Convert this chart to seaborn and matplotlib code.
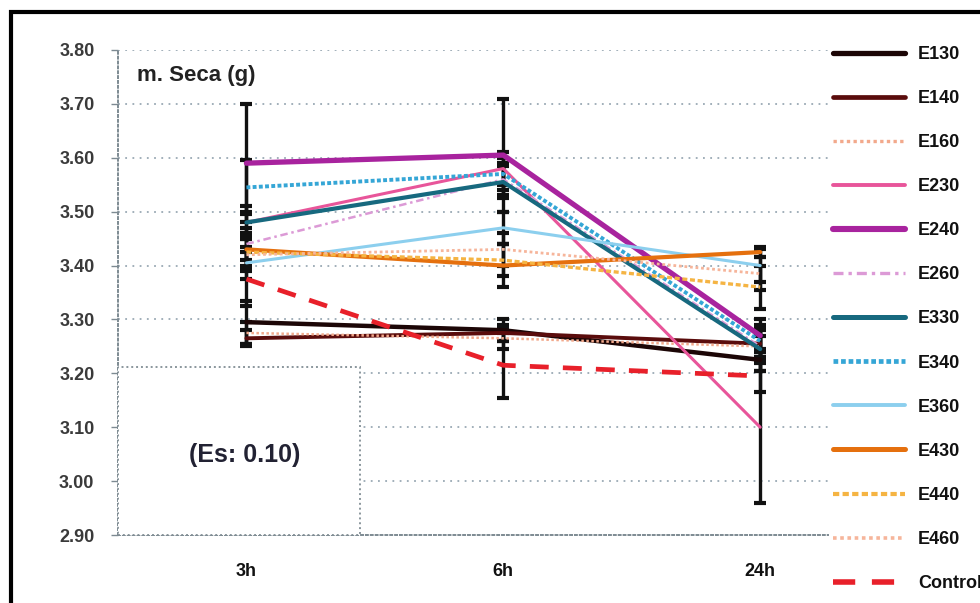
import numpy as np
import pandas as pd
import matplotlib
matplotlib.use("Agg")
import matplotlib.pyplot as plt
from matplotlib.patches import Rectangle
import seaborn as sns

# ---------------- data ----------------
hours = ["3h", "6h", "24h"]
series_names = ["E130", "E140", "E160", "E230", "E240", "E260",
                "E330", "E340", "E360", "E430", "E440", "E460", "Control"]
E130 = [3.295, 3.280, 3.225]
E140 = [3.265, 3.275, 3.255]
E160 = [3.275, 3.265, 3.250]
E230 = [3.480, 3.580, 3.100]
E240 = [3.590, 3.605, 3.270]
E260 = [3.440, 3.560, 3.250]
E330 = [3.480, 3.555, 3.245]
E340 = [3.545, 3.570, 3.260]
E360 = [3.405, 3.470, 3.400]
E430 = [3.430, 3.400, 3.425]
E440 = [3.425, 3.410, 3.360]
E460 = [3.420, 3.430, 3.385]
Control = [3.375, 3.215, 3.195]
values = [E130, E140, E160, E230, E240, E260, E330, E340, E360, E430, E440, E460, Control]

# error bar half-lengths (estimated)
err_E130 = [0.040, 0.020, 0.020]
err_E140 = [0.015, 0.015, 0.030]
err_E160 = [0.020, 0.020, 0.020]
err_E230 = [0.020, 0.030, 0.140]
err_E240 = [0.110, 0.105, 0.030]
err_E260 = [0.030, 0.030, 0.030]
err_E330 = [0.030, 0.030, 0.040]
err_E340 = [0.050, 0.030, 0.030]
err_E360 = [0.030, 0.030, 0.030]
err_E430 = [0.030, 0.040, 0.010]
err_E440 = [0.030, 0.030, 0.040]
err_E460 = [0.030, 0.030, 0.030]
err_Control = [0.050, 0.060, 0.030]
errors = [err_E130, err_E140, err_E160, err_E230, err_E240, err_E260, err_E330,
          err_E340, err_E360, err_E430, err_E440, err_E460, err_Control]

yticks = [2.90, 3.00, 3.10, 3.20, 3.30, 3.40, 3.50, 3.60, 3.70, 3.80]
ylabel_text = "m. Seca (g)"
box_text = "(Es: 0.10)"

# ---------------- styles ----------------
palette = {
    "E130": "#1c0606", "E140": "#5a0c0c", "E160": "#f2a98c", "E230": "#e8559a",
    "E240": "#a8239e", "E260": "#dc9ad6", "E330": "#17697f", "E340": "#35a6d6",
    "E360": "#8ccfee", "E430": "#e5700e", "E440": "#f5b443", "E460": "#f6b59b",
    "Control": "#e8202a",
}
sizes = {
    "E130": 3.2, "E140": 2.8, "E160": 1.8, "E230": 2.2, "E240": 3.8, "E260": 1.8,
    "E330": 3.0, "E340": 2.8, "E360": 2.2, "E430": 3.0, "E440": 2.4, "E460": 2.0,
    "Control": 3.4,
}
dashes = {
    "E130": "", "E140": "", "E160": (1, 1), "E230": "", "E240": "", "E260": (3, 1.5, 1, 1.5),
    "E330": "", "E340": (1, 0.6), "E360": "", "E430": "", "E440": (1.5, 0.8), "E460": (1, 1),
    "Control": (4, 3),
}

rows = []
for name, vals in zip(series_names, values):
    for h, v in zip(hours, vals):
        rows.append({"hour": h, "value": v, "series": name})
df = pd.DataFrame(rows)

sns.set_theme(style="white")
plt.rcParams["font.family"] = ["Liberation Sans", "DejaVu Sans"]

fig = plt.figure(figsize=(9.8, 6.03), dpi=100)
W, H = 980, 603
ax = fig.add_axes([118 / W, 1 - 535 / H, (828 - 118) / W, (535 - 50) / H])

sns.lineplot(data=df, x="hour", y="value", hue="series", size="series", style="series",
             palette=palette, sizes=sizes, dashes=dashes, hue_order=series_names,
             size_order=series_names, style_order=series_names,
             sort=False, ax=ax, legend="full")

# error bars
for name, vals, err in zip(series_names, values, errors):
    ax.errorbar(hours, vals, yerr=err, fmt="none", ecolor="#111111",
                elinewidth=2.4, capsize=4, capthick=3, zorder=1)

ax.set_xlim(-0.5, 2.264)
ax.set_ylim(2.90, 3.80)
ax.set_yticks(yticks)
ax.set_yticklabels([f"{t:.2f}" for t in yticks])
ax.set_xlabel("")
ax.set_ylabel("")

# grid
for t in yticks[1:]:
    ax.axhline(t, color="#9aa9b4", lw=1.3, ls=(0, (1, 3)), zorder=0)

for s in ["top", "right"]:
    ax.spines[s].set_visible(False)
for s in ["left", "bottom"]:
    ax.spines[s].set_color("#7d8a92")
    ax.spines[s].set_linewidth(1.4)
    ax.spines[s].set_linestyle((0, (1, 1.5)))

ax.tick_params(axis="y", which="both", left=True, length=5, width=1, color="#7d8a92",
               pad=12, labelsize=13, labelcolor="#3a3a3a")
ax.tick_params(axis="x", bottom=False, pad=14, labelsize=13, labelcolor="#111111")
for lbl in ax.get_yticklabels() + ax.get_xticklabels():
    lbl.set_fontweight("bold")

# y label inside the axes
ax.text(0.027, 0.948, ylabel_text, transform=ax.transAxes, fontsize=16,
        fontweight="bold", color="#222222", ha="left", va="center")

# Es box
ax.add_patch(Rectangle((0, 0), 0.341, 0.346, transform=ax.transAxes, fill=True,
                       facecolor="white", edgecolor="#8a969c", lw=1.4,
                       ls=(0, (1, 1.5)), zorder=3))
ax.text(0.179, 0.165, box_text, transform=ax.transAxes, fontsize=18,
        fontweight="semibold", color="#222233", ha="center", va="center", zorder=4)

# legend
sns.move_legend(ax, "upper left", bbox_to_anchor=(833 / W, 1 - 46 / H),
                bbox_transform=fig.transFigure, frameon=False, title=None,
                fontsize=13, handlelength=4.0, handletextpad=0.7,
                labelspacing=1.5, borderpad=0, borderaxespad=0)
leg = ax.get_legend()
for t in leg.get_texts():
    t.set_fontweight("bold")
    t.set_color("#111111")
for line, name in zip(leg.get_lines(), series_names):
    line.set_linewidth(sizes[name] + 0.6)

# outer frame
fig.patches.append(Rectangle((11 / W, -0.1), 1.2, 1.1 - 12 / H + 0.0,
                             transform=fig.transFigure, fill=False,
                             edgecolor="black", lw=3, figure=fig))

fig.savefig("out.png", dpi=100)
